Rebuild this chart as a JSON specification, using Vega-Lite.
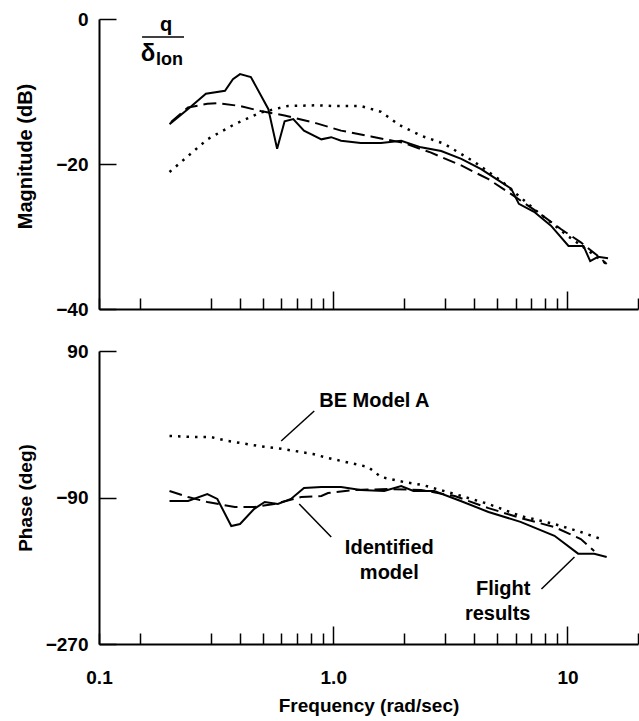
{
  "$schema": "https://vega.github.io/schema/vega-lite/v6.json",
  "background": "white",
  "padding": {"left": 14, "top": 10, "right": 1, "bottom": 3},
  "config": {
    "view": {"stroke": null},
    "font": "Liberation Sans",
    "axis": {"domainColor": "black", "domainWidth": 2, "tickColor": "black", "tickWidth": 1.5, "labelColor": "black", "titleColor": "black", "labelFont": "Liberation Sans", "titleFont": "Liberation Sans", "labelFontWeight": "bold", "titleFontWeight": "bold", "labelFontSize": 19, "titleFontSize": 19, "grid": false, "labelFlush": false, "labelOverlap": false, "labelBound": false}
  },
  "datasets": {
    "mag": [
      {"s": "Flight results", "f": 0.2, "v": -14.5}, {"s": "Flight results", "f": 0.24, "v": -12.4}, {"s": "Flight results", "f": 0.286, "v": -10.3}, {"s": "Flight results", "f": 0.345, "v": -9.9}, {"s": "Flight results", "f": 0.373, "v": -8.3}, {"s": "Flight results", "f": 0.4, "v": -7.6}, {"s": "Flight results", "f": 0.445, "v": -8.0}, {"s": "Flight results", "f": 0.528, "v": -12.4}, {"s": "Flight results", "f": 0.576, "v": -17.9}, {"s": "Flight results", "f": 0.62, "v": -14.1}, {"s": "Flight results", "f": 0.675, "v": -13.8}, {"s": "Flight results", "f": 0.75, "v": -15.4}, {"s": "Flight results", "f": 0.89, "v": -16.6}, {"s": "Flight results", "f": 0.98, "v": -16.3}, {"s": "Flight results", "f": 1.08, "v": -16.8}, {"s": "Flight results", "f": 1.31, "v": -17.1}, {"s": "Flight results", "f": 1.6, "v": -17.1}, {"s": "Flight results", "f": 1.95, "v": -16.8}, {"s": "Flight results", "f": 2.37, "v": -17.7}, {"s": "Flight results", "f": 2.89, "v": -18.2}, {"s": "Flight results", "f": 3.52, "v": -19.3}, {"s": "Flight results", "f": 4.28, "v": -20.7}, {"s": "Flight results", "f": 5.21, "v": -22.5}, {"s": "Flight results", "f": 5.75, "v": -23.4}, {"s": "Flight results", "f": 6.2, "v": -25.5}, {"s": "Flight results", "f": 7.2, "v": -26.6}, {"s": "Flight results", "f": 8.5, "v": -28.5}, {"s": "Flight results", "f": 10.1, "v": -31.3}, {"s": "Flight results", "f": 11.7, "v": -31.3}, {"s": "Flight results", "f": 12.5, "v": -33.4}, {"s": "Flight results", "f": 13.5, "v": -32.8}, {"s": "Flight results", "f": 14.9, "v": -33.0},
      {"s": "Identified model", "f": 0.203, "v": -14.2}, {"s": "Identified model", "f": 0.24, "v": -12.2}, {"s": "Identified model", "f": 0.29, "v": -11.7}, {"s": "Identified model", "f": 0.32, "v": -11.6}, {"s": "Identified model", "f": 0.4, "v": -12.0}, {"s": "Identified model", "f": 0.49, "v": -12.7}, {"s": "Identified model", "f": 0.62, "v": -13.3}, {"s": "Identified model", "f": 0.85, "v": -14.4}, {"s": "Identified model", "f": 1.08, "v": -15.4}, {"s": "Identified model", "f": 1.45, "v": -16.2}, {"s": "Identified model", "f": 2.0, "v": -17.1}, {"s": "Identified model", "f": 2.6, "v": -18.4}, {"s": "Identified model", "f": 3.52, "v": -20.2}, {"s": "Identified model", "f": 4.6, "v": -22.1}, {"s": "Identified model", "f": 5.9, "v": -24.4}, {"s": "Identified model", "f": 7.5, "v": -26.7}, {"s": "Identified model", "f": 9.4, "v": -29.0}, {"s": "Identified model", "f": 11.4, "v": -30.8}, {"s": "Identified model", "f": 13.5, "v": -32.7}, {"s": "Identified model", "f": 14.7, "v": -33.8},
      {"s": "BE Model A", "f": 0.2, "v": -21.1}, {"s": "BE Model A", "f": 0.24, "v": -18.9}, {"s": "BE Model A", "f": 0.29, "v": -16.6}, {"s": "BE Model A", "f": 0.38, "v": -14.5}, {"s": "BE Model A", "f": 0.49, "v": -12.9}, {"s": "BE Model A", "f": 0.64, "v": -12.0}, {"s": "BE Model A", "f": 0.86, "v": -11.9}, {"s": "BE Model A", "f": 0.98, "v": -12.0}, {"s": "BE Model A", "f": 1.31, "v": -12.0}, {"s": "BE Model A", "f": 1.6, "v": -12.8}, {"s": "BE Model A", "f": 1.91, "v": -14.6}, {"s": "BE Model A", "f": 2.37, "v": -16.1}, {"s": "BE Model A", "f": 2.97, "v": -17.2}, {"s": "BE Model A", "f": 4.0, "v": -19.7}, {"s": "BE Model A", "f": 5.2, "v": -22.3}, {"s": "BE Model A", "f": 7.2, "v": -26.2}, {"s": "BE Model A", "f": 10, "v": -29.9}, {"s": "BE Model A", "f": 14.7, "v": -33.8}
    ],
    "phase": [
      {"s": "Flight results", "f": 0.2, "v": -94.3}, {"s": "Flight results", "f": 0.24, "v": -94.3}, {"s": "Flight results", "f": 0.29, "v": -85.7}, {"s": "Flight results", "f": 0.32, "v": -91.8}, {"s": "Flight results", "f": 0.367, "v": -125}, {"s": "Flight results", "f": 0.4, "v": -122.6}, {"s": "Flight results", "f": 0.46, "v": -104}, {"s": "Flight results", "f": 0.51, "v": -95.5}, {"s": "Flight results", "f": 0.58, "v": -98}, {"s": "Flight results", "f": 0.66, "v": -91.8}, {"s": "Flight results", "f": 0.75, "v": -78.3}, {"s": "Flight results", "f": 0.89, "v": -77.1}, {"s": "Flight results", "f": 1.08, "v": -77.1}, {"s": "Flight results", "f": 1.31, "v": -80.8}, {"s": "Flight results", "f": 1.65, "v": -82}, {"s": "Flight results", "f": 1.95, "v": -75.9}, {"s": "Flight results", "f": 2.2, "v": -82}, {"s": "Flight results", "f": 2.7, "v": -82}, {"s": "Flight results", "f": 3.5, "v": -94.3}, {"s": "Flight results", "f": 4.6, "v": -107.8}, {"s": "Flight results", "f": 6.3, "v": -120}, {"s": "Flight results", "f": 8.8, "v": -137}, {"s": "Flight results", "f": 11.1, "v": -159}, {"s": "Flight results", "f": 13.0, "v": -159}, {"s": "Flight results", "f": 14.7, "v": -163},
      {"s": "Identified model", "f": 0.2, "v": -82}, {"s": "Identified model", "f": 0.24, "v": -89.4}, {"s": "Identified model", "f": 0.29, "v": -95.5}, {"s": "Identified model", "f": 0.38, "v": -101.7}, {"s": "Identified model", "f": 0.46, "v": -101.7}, {"s": "Identified model", "f": 0.56, "v": -98}, {"s": "Identified model", "f": 0.73, "v": -89.4}, {"s": "Identified model", "f": 0.89, "v": -88.2}, {"s": "Identified model", "f": 0.95, "v": -84.5}, {"s": "Identified model", "f": 1.23, "v": -80.8}, {"s": "Identified model", "f": 1.72, "v": -79.6}, {"s": "Identified model", "f": 2.37, "v": -80.8}, {"s": "Identified model", "f": 3.3, "v": -88.2}, {"s": "Identified model", "f": 4.6, "v": -103}, {"s": "Identified model", "f": 6.3, "v": -115.2}, {"s": "Identified model", "f": 8.8, "v": -126.3}, {"s": "Identified model", "f": 11.4, "v": -141}, {"s": "Identified model", "f": 13.0, "v": -155.7},
      {"s": "BE Model A", "f": 0.2, "v": -14.4}, {"s": "BE Model A", "f": 0.255, "v": -15.7}, {"s": "BE Model A", "f": 0.3, "v": -15.7}, {"s": "BE Model A", "f": 0.356, "v": -20.6}, {"s": "BE Model A", "f": 0.48, "v": -26.7}, {"s": "BE Model A", "f": 0.61, "v": -30.4}, {"s": "BE Model A", "f": 0.82, "v": -36.6}, {"s": "BE Model A", "f": 0.95, "v": -41.5}, {"s": "BE Model A", "f": 1.41, "v": -52.5}, {"s": "BE Model A", "f": 1.6, "v": -64.8}, {"s": "BE Model A", "f": 2.0, "v": -71}, {"s": "BE Model A", "f": 2.4, "v": -74.6}, {"s": "BE Model A", "f": 3.3, "v": -85.7}, {"s": "BE Model A", "f": 4.6, "v": -98}, {"s": "BE Model A", "f": 6.3, "v": -112.7}, {"s": "BE Model A", "f": 8.8, "v": -122.6}, {"s": "BE Model A", "f": 11.4, "v": -132.4}, {"s": "BE Model A", "f": 13.9, "v": -141}
    ]
  },
  "spacing": 42,
  "bounds": "flush",
  "vconcat": [
    {
      "width": 539,
      "height": 290,
      "encoding": {
        "x": {"field": "f", "type": "quantitative", "scale": {"type": "log", "domain": [0.1, 20], "nice": false},
          "axis": {"values": [0.1, 0.15, 0.3, 0.4, 0.5, 0.6, 0.7, 0.8, 0.9, 1, 2, 3, 4, 5, 6, 7, 8, 9, 10, 20], "labels": false, "title": null,
            "tickSize": {"condition": {"test": "datum.value == 1 || datum.value == 10", "value": -18}, "value": -11}}},
        "y": {"field": "v", "type": "quantitative", "scale": {"domain": [-40, 0], "nice": false, "zero": false},
          "axis": {"values": [0, -20, -40], "tickSize": -17, "labelPadding": 28, "title": "Magnitude (dB)", "titleFontSize": 20, "titleX": -68, "titleY": 137, "titleBaseline": "alphabetic"}}
      },
      "layer": [
        {
          "data": {"name": "mag"},
          "transform": [{"filter": "datum.s == 'Flight results'"}],
          "mark": {"type": "line", "color": "black", "strokeWidth": 2}
        },
        {
          "data": {"name": "mag"},
          "transform": [{"filter": "datum.s == 'Identified model'"}],
          "mark": {"type": "line", "color": "black", "strokeWidth": 2, "strokeDash": [13, 6]}
        },
        {
          "data": {"name": "mag"},
          "transform": [{"filter": "datum.s == 'BE Model A'"}],
          "mark": {"type": "line", "color": "black", "strokeWidth": 2.5, "strokeDash": [2.5, 6]}
        },
        {
          "data": {"values": [{"f": 0.1933, "v": -1.66, "t": "q"}]},
          "mark": {"type": "text", "font": "Liberation Sans", "fontWeight": "bold", "fontSize": 20, "align": "center", "baseline": "alphabetic", "color": "black"},
          "encoding": {"text": {"field": "t"}}
        },
        {
          "data": {"values": [{"f": 0.1527, "f2": 0.2307, "v": -2.48}]},
          "mark": {"type": "rule", "color": "black", "strokeWidth": 1.6},
          "encoding": {"x2": {"field": "f2"}}
        },
        {
          "data": {"values": [{"f": 0.162, "v": -5.79, "t": "δ"}]},
          "mark": {"type": "text", "font": "Liberation Sans", "fontWeight": "bold", "fontSize": 24, "align": "center", "baseline": "alphabetic", "color": "black"},
          "encoding": {"text": {"field": "t"}}
        },
        {
          "data": {"values": [{"f": 0.1752, "v": -6.34, "t": "lon"}]},
          "mark": {"type": "text", "font": "Liberation Sans", "fontWeight": "bold", "fontSize": 18, "align": "left", "baseline": "alphabetic", "color": "black"},
          "encoding": {"text": {"field": "t"}}
        }
      ]
    },
    {
      "width": 539,
      "height": 293,
      "encoding": {
        "x": {"field": "f", "type": "quantitative", "scale": {"type": "log", "domain": [0.1, 20], "nice": false},
          "axis": {"values": [0.1, 0.15, 0.3, 0.4, 0.5, 0.6, 0.7, 0.8, 0.9, 1, 2, 3, 4, 5, 6, 7, 8, 9, 10, 20],
            "labelExpr": "datum.value == 0.1 ? '0.1' : datum.value == 1 ? '1.0' : datum.value == 10 ? '10' : ''",
            "title": "Frequency (rad/sec)", "titlePadding": 9,
            "tickSize": {"condition": {"test": "datum.value == 1 || datum.value == 10", "value": -18}, "value": -11},
            "labelPadding": {"condition": {"test": "datum.value == 1 || datum.value == 10", "value": 42}, "value": 35}}},
        "y": {"field": "v", "type": "quantitative", "scale": {"domain": [-270, 90], "nice": false, "zero": false},
          "axis": {"values": [90, -90, -270], "tickSize": -17, "labelPadding": 28, "title": "Phase (deg)", "titleFontSize": 19, "titleX": -68, "titleBaseline": "alphabetic"}}
      },
      "layer": [
        {
          "data": {"name": "phase"},
          "transform": [{"filter": "datum.s == 'Flight results'"}],
          "mark": {"type": "line", "color": "black", "strokeWidth": 2}
        },
        {
          "data": {"name": "phase"},
          "transform": [{"filter": "datum.s == 'Identified model'"}],
          "mark": {"type": "line", "color": "black", "strokeWidth": 2, "strokeDash": [13, 6]}
        },
        {
          "data": {"name": "phase"},
          "transform": [{"filter": "datum.s == 'BE Model A'"}],
          "mark": {"type": "line", "color": "black", "strokeWidth": 2.5, "strokeDash": [2.5, 6]}
        },
        {
          "data": {"values": [
            {"f": 0.5995, "f2": 0.8295, "v": -20.6, "v2": 16.3},
            {"f": 0.7157, "f2": 0.9806, "v": -98.0, "v2": -138.5},
            {"f": 7.743, "f2": 10.71, "v": -202.4, "v2": -163.1}
          ]},
          "mark": {"type": "rule", "color": "black", "strokeWidth": 1.5},
          "encoding": {"x2": {"field": "f2"}, "y2": {"field": "v2"}}
        },
        {
          "data": {"values": [{"f": 0.871, "v": 21.2, "t": "BE Model A"}]},
          "mark": {"type": "text", "font": "Liberation Sans", "fontWeight": "bold", "fontSize": 20, "align": "left", "baseline": "alphabetic", "color": "black"},
          "encoding": {"text": {"field": "t"}}
        },
        {
          "data": {"values": [{"f": 1.735, "v": -159.4, "t": "Identified"}, {"f": 1.735, "v": -190.1, "t": "model"}]},
          "mark": {"type": "text", "font": "Liberation Sans", "fontWeight": "bold", "fontSize": 20, "align": "center", "baseline": "alphabetic", "color": "black"},
          "encoding": {"text": {"field": "t"}}
        },
        {
          "data": {"values": [{"f": 6.95, "v": -209.8, "t": "Flight"}, {"f": 6.95, "v": -240.5, "t": "results"}]},
          "mark": {"type": "text", "font": "Liberation Sans", "fontWeight": "bold", "fontSize": 20, "align": "right", "baseline": "alphabetic", "color": "black"},
          "encoding": {"text": {"field": "t"}}
        }
      ]
    }
  ]
}
